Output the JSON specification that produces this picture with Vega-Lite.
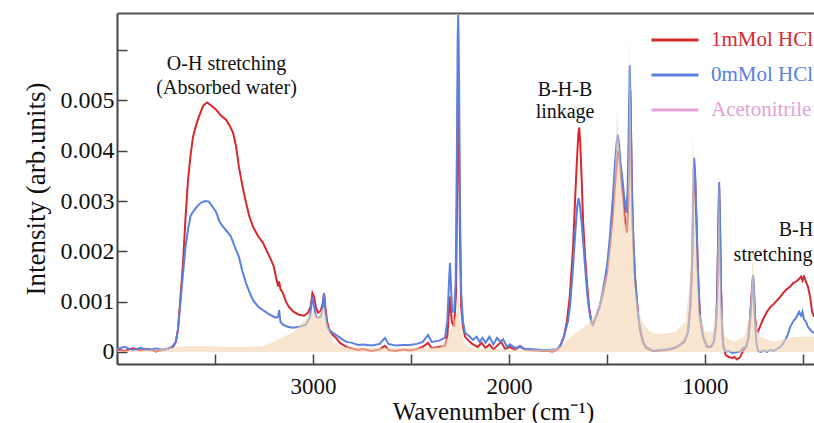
{
  "$schema": "https://vega.github.io/schema/vega-lite/v6.json",
  "width": 697,
  "height": 351,
  "autosize": {"type": "none"},
  "padding": {"left": 117, "top": 13, "right": 0, "bottom": 59},
  "background": "white",
  "config": {
    "font": "Liberation Serif, Times New Roman, serif",
    "view": {"stroke": null},
    "text": {"font": "Liberation Serif, Times New Roman, serif"},
    "legend": {"labelFont": "Liberation Serif, Times New Roman, serif"},
    "axis": {
      "labelFont": "Liberation Serif, Times New Roman, serif",
      "titleFont": "Liberation Serif, Times New Roman, serif",
      "labelColor": "#111",
      "titleColor": "#111",
      "titleFontWeight": "normal",
      "grid": false,
      "domainColor": "#444",
      "domainWidth": 2,
      "tickColor": "#444",
      "tickWidth": 1.5
    }
  },
  "datasets": {
    "spectra": [
      {"s":"1mMol HCl","w":4000,"v":0.00005},{"s":"1mMol HCl","w":3960,"v":0.00002},{"s":"1mMol HCl","w":3920,"v":0.00007},{"s":"1mMol HCl","w":3880,"v":0.00003},{"s":"1mMol HCl","w":3840,"v":0.00006},{"s":"1mMol HCl","w":3800,"v":0.00001},{"s":"1mMol HCl","w":3760,"v":0.00005},{"s":"1mMol HCl","w":3730,"v":0.00007},{"s":"1mMol HCl","w":3714,"v":0.0001},{"s":"1mMol HCl","w":3700,"v":0.0002},{"s":"1mMol HCl","w":3689,"v":0.00044},{"s":"1mMol HCl","w":3676,"v":0.0011},{"s":"1mMol HCl","w":3663,"v":0.00177},{"s":"1mMol HCl","w":3650,"v":0.0027},{"s":"1mMol HCl","w":3638,"v":0.0034},{"s":"1mMol HCl","w":3625,"v":0.0039},{"s":"1mMol HCl","w":3612,"v":0.00428},{"s":"1mMol HCl","w":3597,"v":0.0045},{"s":"1mMol HCl","w":3582,"v":0.00468},{"s":"1mMol HCl","w":3560,"v":0.0049},{"s":"1mMol HCl","w":3540,"v":0.00496},{"s":"1mMol HCl","w":3520,"v":0.0049},{"s":"1mMol HCl","w":3495,"v":0.00482},{"s":"1mMol HCl","w":3470,"v":0.0047},{"s":"1mMol HCl","w":3444,"v":0.00462},{"s":"1mMol HCl","w":3425,"v":0.0045},{"s":"1mMol HCl","w":3408,"v":0.00436},{"s":"1mMol HCl","w":3393,"v":0.0041},{"s":"1mMol HCl","w":3378,"v":0.00368},{"s":"1mMol HCl","w":3360,"v":0.0033},{"s":"1mMol HCl","w":3342,"v":0.00297},{"s":"1mMol HCl","w":3325,"v":0.0027},{"s":"1mMol HCl","w":3306,"v":0.00249},{"s":"1mMol HCl","w":3280,"v":0.0023},{"s":"1mMol HCl","w":3255,"v":0.00217},{"s":"1mMol HCl","w":3235,"v":0.002},{"s":"1mMol HCl","w":3214,"v":0.00183},{"s":"1mMol HCl","w":3200,"v":0.0017},{"s":"1mMol HCl","w":3189,"v":0.00149},{"s":"1mMol HCl","w":3178,"v":0.0013},{"s":"1mMol HCl","w":3173,"v":0.0014},{"s":"1mMol HCl","w":3166,"v":0.00125},{"s":"1mMol HCl","w":3153,"v":0.00117},{"s":"1mMol HCl","w":3138,"v":0.001},{"s":"1mMol HCl","w":3122,"v":0.00089},{"s":"1mMol HCl","w":3100,"v":0.0008},{"s":"1mMol HCl","w":3071,"v":0.00074},{"s":"1mMol HCl","w":3045,"v":0.00072},{"s":"1mMol HCl","w":3026,"v":0.00078},{"s":"1mMol HCl","w":3012,"v":0.0009},{"s":"1mMol HCl","w":3003,"v":0.00117},{"s":"1mMol HCl","w":2995,"v":0.0011},{"s":"1mMol HCl","w":2985,"v":0.00088},{"s":"1mMol HCl","w":2974,"v":0.00078},{"s":"1mMol HCl","w":2960,"v":0.00082},{"s":"1mMol HCl","w":2950,"v":0.00098},{"s":"1mMol HCl","w":2944,"v":0.00117},{"s":"1mMol HCl","w":2937,"v":0.0009},{"s":"1mMol HCl","w":2928,"v":0.0006},{"s":"1mMol HCl","w":2918,"v":0.00044},{"s":"1mMol HCl","w":2900,"v":0.00034},{"s":"1mMol HCl","w":2883,"v":0.00028},{"s":"1mMol HCl","w":2862,"v":0.00018},{"s":"1mMol HCl","w":2830,"v":0.0001},{"s":"1mMol HCl","w":2800,"v":0.00007},{"s":"1mMol HCl","w":2770,"v":0.00004},{"s":"1mMol HCl","w":2745,"v":0.00006},{"s":"1mMol HCl","w":2700,"v":0.00002},{"s":"1mMol HCl","w":2660,"v":0.00005},{"s":"1mMol HCl","w":2633,"v":0.00012},{"s":"1mMol HCl","w":2615,"v":0.00004},{"s":"1mMol HCl","w":2580,"v":0.00002},{"s":"1mMol HCl","w":2540,"v":0.00005},{"s":"1mMol HCl","w":2505,"v":0.00003},{"s":"1mMol HCl","w":2470,"v":0.00006},{"s":"1mMol HCl","w":2440,"v":0.0001},{"s":"1mMol HCl","w":2413,"v":0.00018},{"s":"1mMol HCl","w":2395,"v":0.00008},{"s":"1mMol HCl","w":2360,"v":0.0001},{"s":"1mMol HCl","w":2327,"v":0.00012},{"s":"1mMol HCl","w":2315,"v":0.0003},{"s":"1mMol HCl","w":2301,"v":0.0011},{"s":"1mMol HCl","w":2292,"v":0.0006},{"s":"1mMol HCl","w":2280,"v":0.0005},{"s":"1mMol HCl","w":2270,"v":0.0012},{"s":"1mMol HCl","w":2264,"v":0.0035},{"s":"1mMol HCl","w":2260,"v":0.0056},{"s":"1mMol HCl","w":2256,"v":0.0045},{"s":"1mMol HCl","w":2250,"v":0.0022},{"s":"1mMol HCl","w":2244,"v":0.0009},{"s":"1mMol HCl","w":2235,"v":0.0005},{"s":"1mMol HCl","w":2224,"v":0.0003},{"s":"1mMol HCl","w":2200,"v":0.0002},{"s":"1mMol HCl","w":2184,"v":0.00015},{"s":"1mMol HCl","w":2160,"v":0.0001},{"s":"1mMol HCl","w":2140,"v":0.00018},{"s":"1mMol HCl","w":2120,"v":0.00008},{"s":"1mMol HCl","w":2100,"v":0.00015},{"s":"1mMol HCl","w":2080,"v":0.00005},{"s":"1mMol HCl","w":2061,"v":0.00012},{"s":"1mMol HCl","w":2040,"v":0.0002},{"s":"1mMol HCl","w":2020,"v":0.00006},{"s":"1mMol HCl","w":1995,"v":0.0001},{"s":"1mMol HCl","w":1970,"v":0.00004},{"s":"1mMol HCl","w":1944,"v":0.00012},{"s":"1mMol HCl","w":1920,"v":0.00005},{"s":"1mMol HCl","w":1893,"v":0.00004},{"s":"1mMol HCl","w":1860,"v":0.00003},{"s":"1mMol HCl","w":1830,"v":0.00002},{"s":"1mMol HCl","w":1800,"v":0.00002},{"s":"1mMol HCl","w":1776,"v":0.00001},{"s":"1mMol HCl","w":1755,"v":0.00004},{"s":"1mMol HCl","w":1740,"v":0.0001},{"s":"1mMol HCl","w":1720,"v":0.0003},{"s":"1mMol HCl","w":1705,"v":0.0006},{"s":"1mMol HCl","w":1690,"v":0.0011},{"s":"1mMol HCl","w":1673,"v":0.0021},{"s":"1mMol HCl","w":1662,"v":0.0031},{"s":"1mMol HCl","w":1653,"v":0.00385},{"s":"1mMol HCl","w":1646,"v":0.00435},{"s":"1mMol HCl","w":1642,"v":0.00446},{"s":"1mMol HCl","w":1637,"v":0.0042},{"s":"1mMol HCl","w":1630,"v":0.0035},{"s":"1mMol HCl","w":1622,"v":0.0026},{"s":"1mMol HCl","w":1612,"v":0.0019},{"s":"1mMol HCl","w":1602,"v":0.00135},{"s":"1mMol HCl","w":1592,"v":0.0009},{"s":"1mMol HCl","w":1580,"v":0.0006},{"s":"1mMol HCl","w":1571,"v":0.00054},{"s":"1mMol HCl","w":1555,"v":0.0007},{"s":"1mMol HCl","w":1536,"v":0.00092},{"s":"1mMol HCl","w":1518,"v":0.0012},{"s":"1mMol HCl","w":1500,"v":0.00157},{"s":"1mMol HCl","w":1485,"v":0.0021},{"s":"1mMol HCl","w":1469,"v":0.00277},{"s":"1mMol HCl","w":1458,"v":0.0034},{"s":"1mMol HCl","w":1449,"v":0.00376},{"s":"1mMol HCl","w":1444,"v":0.00396},{"s":"1mMol HCl","w":1436,"v":0.0039},{"s":"1mMol HCl","w":1427,"v":0.0034},{"s":"1mMol HCl","w":1418,"v":0.0031},{"s":"1mMol HCl","w":1408,"v":0.0026},{"s":"1mMol HCl","w":1398,"v":0.00237},{"s":"1mMol HCl","w":1391,"v":0.003},{"s":"1mMol HCl","w":1385,"v":0.0048},{"s":"1mMol HCl","w":1381,"v":0.0052},{"s":"1mMol HCl","w":1376,"v":0.004},{"s":"1mMol HCl","w":1369,"v":0.0025},{"s":"1mMol HCl","w":1360,"v":0.0016},{"s":"1mMol HCl","w":1350,"v":0.0011},{"s":"1mMol HCl","w":1340,"v":0.0007},{"s":"1mMol HCl","w":1332,"v":0.00044},{"s":"1mMol HCl","w":1316,"v":0.00018},{"s":"1mMol HCl","w":1300,"v":0.00008},{"s":"1mMol HCl","w":1280,"v":0.00004},{"s":"1mMol HCl","w":1265,"v":0.00002},{"s":"1mMol HCl","w":1230,"v":0.00003},{"s":"1mMol HCl","w":1200,"v":0.00004},{"s":"1mMol HCl","w":1170,"v":0.00006},{"s":"1mMol HCl","w":1143,"v":0.0001},{"s":"1mMol HCl","w":1128,"v":0.00014},{"s":"1mMol HCl","w":1105,"v":0.0002},{"s":"1mMol HCl","w":1087,"v":0.0004},{"s":"1mMol HCl","w":1075,"v":0.0009},{"s":"1mMol HCl","w":1066,"v":0.0017},{"s":"1mMol HCl","w":1060,"v":0.003},{"s":"1mMol HCl","w":1056,"v":0.0038},{"s":"1mMol HCl","w":1050,"v":0.0034},{"s":"1mMol HCl","w":1044,"v":0.0026},{"s":"1mMol HCl","w":1036,"v":0.0015},{"s":"1mMol HCl","w":1026,"v":0.0007},{"s":"1mMol HCl","w":1010,"v":0.0003},{"s":"1mMol HCl","w":990,"v":0.0001},{"s":"1mMol HCl","w":970,"v":0.0001},{"s":"1mMol HCl","w":955,"v":0.0002},{"s":"1mMol HCl","w":945,"v":0.0005},{"s":"1mMol HCl","w":938,"v":0.0011},{"s":"1mMol HCl","w":932,"v":0.0025},{"s":"1mMol HCl","w":928,"v":0.0033},{"s":"1mMol HCl","w":924,"v":0.0026},{"s":"1mMol HCl","w":918,"v":0.0012},{"s":"1mMol HCl","w":912,"v":0.0004},{"s":"1mMol HCl","w":906,"v":0.0001},{"s":"1mMol HCl","w":895,"v":-0.00006},{"s":"1mMol HCl","w":880,"v":-0.0001},{"s":"1mMol HCl","w":860,"v":-0.00012},{"s":"1mMol HCl","w":850,"v":-0.0001},{"s":"1mMol HCl","w":837,"v":-0.00015},{"s":"1mMol HCl","w":820,"v":-0.0001},{"s":"1mMol HCl","w":806,"v":0.00002},{"s":"1mMol HCl","w":790,"v":0.0001},{"s":"1mMol HCl","w":778,"v":0.0003},{"s":"1mMol HCl","w":768,"v":0.0008},{"s":"1mMol HCl","w":760,"v":0.0013},{"s":"1mMol HCl","w":755,"v":0.0015},{"s":"1mMol HCl","w":750,"v":0.0012},{"s":"1mMol HCl","w":745,"v":0.0007},{"s":"1mMol HCl","w":738,"v":0.00045},{"s":"1mMol HCl","w":730,"v":0.0004},{"s":"1mMol HCl","w":715,"v":0.00055},{"s":"1mMol HCl","w":700,"v":0.00068},{"s":"1mMol HCl","w":684,"v":0.0008},{"s":"1mMol HCl","w":665,"v":0.0009},{"s":"1mMol HCl","w":650,"v":0.00095},{"s":"1mMol HCl","w":632,"v":0.00103},{"s":"1mMol HCl","w":615,"v":0.0011},{"s":"1mMol HCl","w":600,"v":0.00118},{"s":"1mMol HCl","w":582,"v":0.00125},{"s":"1mMol HCl","w":565,"v":0.0013},{"s":"1mMol HCl","w":551,"v":0.00137},{"s":"1mMol HCl","w":535,"v":0.0014},{"s":"1mMol HCl","w":520,"v":0.00145},{"s":"1mMol HCl","w":510,"v":0.0015},{"s":"1mMol HCl","w":503,"v":0.00142},{"s":"1mMol HCl","w":495,"v":0.0015},{"s":"1mMol HCl","w":485,"v":0.0014},{"s":"1mMol HCl","w":475,"v":0.0013},{"s":"1mMol HCl","w":464,"v":0.0011},{"s":"1mMol HCl","w":454,"v":0.0008},{"s":"1mMol HCl","w":444,"v":0.0007},

      {"s":"0mMol HCl","w":4000,"v":0.00006},{"s":"0mMol HCl","w":3960,"v":0.0001},{"s":"0mMol HCl","w":3920,"v":0.00003},{"s":"0mMol HCl","w":3880,"v":0.00008},{"s":"0mMol HCl","w":3840,"v":0.00004},{"s":"0mMol HCl","w":3800,"v":0.00007},{"s":"0mMol HCl","w":3760,"v":0.00004},{"s":"0mMol HCl","w":3730,"v":0.00008},{"s":"0mMol HCl","w":3714,"v":0.00012},{"s":"0mMol HCl","w":3700,"v":0.0002},{"s":"0mMol HCl","w":3689,"v":0.00044},{"s":"0mMol HCl","w":3676,"v":0.001},{"s":"0mMol HCl","w":3663,"v":0.00157},{"s":"0mMol HCl","w":3650,"v":0.0021},{"s":"0mMol HCl","w":3638,"v":0.00243},{"s":"0mMol HCl","w":3625,"v":0.0027},{"s":"0mMol HCl","w":3612,"v":0.00279},{"s":"0mMol HCl","w":3590,"v":0.0029},{"s":"0mMol HCl","w":3571,"v":0.00297},{"s":"0mMol HCl","w":3550,"v":0.003},{"s":"0mMol HCl","w":3531,"v":0.00299},{"s":"0mMol HCl","w":3515,"v":0.0029},{"s":"0mMol HCl","w":3495,"v":0.00279},{"s":"0mMol HCl","w":3478,"v":0.0026},{"s":"0mMol HCl","w":3459,"v":0.00249},{"s":"0mMol HCl","w":3440,"v":0.0024},{"s":"0mMol HCl","w":3418,"v":0.00229},{"s":"0mMol HCl","w":3400,"v":0.0021},{"s":"0mMol HCl","w":3378,"v":0.00189},{"s":"0mMol HCl","w":3360,"v":0.0016},{"s":"0mMol HCl","w":3342,"v":0.00137},{"s":"0mMol HCl","w":3325,"v":0.0012},{"s":"0mMol HCl","w":3306,"v":0.00103},{"s":"0mMol HCl","w":3280,"v":0.0009},{"s":"0mMol HCl","w":3255,"v":0.00083},{"s":"0mMol HCl","w":3225,"v":0.00075},{"s":"0mMol HCl","w":3200,"v":0.0007},{"s":"0mMol HCl","w":3189,"v":0.00068},{"s":"0mMol HCl","w":3178,"v":0.0007},{"s":"0mMol HCl","w":3173,"v":0.00083},{"s":"0mMol HCl","w":3166,"v":0.0006},{"s":"0mMol HCl","w":3153,"v":0.00054},{"s":"0mMol HCl","w":3130,"v":0.0005},{"s":"0mMol HCl","w":3102,"v":0.00048},{"s":"0mMol HCl","w":3070,"v":0.0005},{"s":"0mMol HCl","w":3036,"v":0.00054},{"s":"0mMol HCl","w":3015,"v":0.0007},{"s":"0mMol HCl","w":3003,"v":0.0011},{"s":"0mMol HCl","w":2994,"v":0.0009},{"s":"0mMol HCl","w":2985,"v":0.0007},{"s":"0mMol HCl","w":2974,"v":0.00068},{"s":"0mMol HCl","w":2960,"v":0.0007},{"s":"0mMol HCl","w":2950,"v":0.0009},{"s":"0mMol HCl","w":2944,"v":0.00117},{"s":"0mMol HCl","w":2937,"v":0.0008},{"s":"0mMol HCl","w":2928,"v":0.0005},{"s":"0mMol HCl","w":2918,"v":0.00044},{"s":"0mMol HCl","w":2900,"v":0.00038},{"s":"0mMol HCl","w":2883,"v":0.00034},{"s":"0mMol HCl","w":2862,"v":0.00028},{"s":"0mMol HCl","w":2830,"v":0.0002},{"s":"0mMol HCl","w":2800,"v":0.00018},{"s":"0mMol HCl","w":2770,"v":0.00014},{"s":"0mMol HCl","w":2745,"v":0.00015},{"s":"0mMol HCl","w":2700,"v":0.00013},{"s":"0mMol HCl","w":2660,"v":0.00016},{"s":"0mMol HCl","w":2633,"v":0.00028},{"s":"0mMol HCl","w":2615,"v":0.00016},{"s":"0mMol HCl","w":2580,"v":0.00013},{"s":"0mMol HCl","w":2540,"v":0.00014},{"s":"0mMol HCl","w":2505,"v":0.00014},{"s":"0mMol HCl","w":2470,"v":0.00016},{"s":"0mMol HCl","w":2440,"v":0.0002},{"s":"0mMol HCl","w":2413,"v":0.00034},{"s":"0mMol HCl","w":2395,"v":0.0002},{"s":"0mMol HCl","w":2360,"v":0.00022},{"s":"0mMol HCl","w":2327,"v":0.00028},{"s":"0mMol HCl","w":2315,"v":0.0006},{"s":"0mMol HCl","w":2306,"v":0.0014},{"s":"0mMol HCl","w":2301,"v":0.00177},{"s":"0mMol HCl","w":2296,"v":0.0013},{"s":"0mMol HCl","w":2290,"v":0.0008},{"s":"0mMol HCl","w":2280,"v":0.0008},{"s":"0mMol HCl","w":2272,"v":0.0014},{"s":"0mMol HCl","w":2266,"v":0.004},{"s":"0mMol HCl","w":2262,"v":0.0062},{"s":"0mMol HCl","w":2259,"v":0.0067},{"s":"0mMol HCl","w":2255,"v":0.0055},{"s":"0mMol HCl","w":2250,"v":0.0028},{"s":"0mMol HCl","w":2244,"v":0.0012},{"s":"0mMol HCl","w":2235,"v":0.0006},{"s":"0mMol HCl","w":2224,"v":0.00038},{"s":"0mMol HCl","w":2200,"v":0.0003},{"s":"0mMol HCl","w":2184,"v":0.00024},{"s":"0mMol HCl","w":2165,"v":0.0003},{"s":"0mMol HCl","w":2150,"v":0.0002},{"s":"0mMol HCl","w":2135,"v":0.00028},{"s":"0mMol HCl","w":2120,"v":0.00018},{"s":"0mMol HCl","w":2100,"v":0.0003},{"s":"0mMol HCl","w":2080,"v":0.00015},{"s":"0mMol HCl","w":2061,"v":0.00028},{"s":"0mMol HCl","w":2045,"v":0.0002},{"s":"0mMol HCl","w":2030,"v":0.00025},{"s":"0mMol HCl","w":2010,"v":0.0001},{"s":"0mMol HCl","w":1995,"v":0.00015},{"s":"0mMol HCl","w":1970,"v":0.00008},{"s":"0mMol HCl","w":1944,"v":0.0001},{"s":"0mMol HCl","w":1920,"v":0.00006},{"s":"0mMol HCl","w":1893,"v":0.00006},{"s":"0mMol HCl","w":1860,"v":0.00005},{"s":"0mMol HCl","w":1830,"v":0.00004},{"s":"0mMol HCl","w":1800,"v":0.00004},{"s":"0mMol HCl","w":1776,"v":0.00005},{"s":"0mMol HCl","w":1755,"v":0.00006},{"s":"0mMol HCl","w":1740,"v":0.00012},{"s":"0mMol HCl","w":1720,"v":0.0003},{"s":"0mMol HCl","w":1700,"v":0.0006},{"s":"0mMol HCl","w":1689,"v":0.0009},{"s":"0mMol HCl","w":1675,"v":0.0016},{"s":"0mMol HCl","w":1663,"v":0.0023},{"s":"0mMol HCl","w":1652,"v":0.0029},{"s":"0mMol HCl","w":1645,"v":0.00306},{"s":"0mMol HCl","w":1638,"v":0.0029},{"s":"0mMol HCl","w":1630,"v":0.0026},{"s":"0mMol HCl","w":1622,"v":0.0022},{"s":"0mMol HCl","w":1612,"v":0.0017},{"s":"0mMol HCl","w":1602,"v":0.0012},{"s":"0mMol HCl","w":1590,"v":0.0008},{"s":"0mMol HCl","w":1580,"v":0.0006},{"s":"0mMol HCl","w":1575,"v":0.00054},{"s":"0mMol HCl","w":1555,"v":0.0007},{"s":"0mMol HCl","w":1536,"v":0.00092},{"s":"0mMol HCl","w":1518,"v":0.0013},{"s":"0mMol HCl","w":1500,"v":0.0017},{"s":"0mMol HCl","w":1485,"v":0.0023},{"s":"0mMol HCl","w":1470,"v":0.0031},{"s":"0mMol HCl","w":1459,"v":0.00376},{"s":"0mMol HCl","w":1450,"v":0.0042},{"s":"0mMol HCl","w":1445,"v":0.00432},{"s":"0mMol HCl","w":1438,"v":0.0041},{"s":"0mMol HCl","w":1430,"v":0.0037},{"s":"0mMol HCl","w":1423,"v":0.0035},{"s":"0mMol HCl","w":1413,"v":0.0031},{"s":"0mMol HCl","w":1403,"v":0.00277},{"s":"0mMol HCl","w":1395,"v":0.0032},{"s":"0mMol HCl","w":1389,"v":0.0045},{"s":"0mMol HCl","w":1384,"v":0.0057},{"s":"0mMol HCl","w":1379,"v":0.0048},{"s":"0mMol HCl","w":1373,"v":0.0032},{"s":"0mMol HCl","w":1365,"v":0.0022},{"s":"0mMol HCl","w":1357,"v":0.0015},{"s":"0mMol HCl","w":1347,"v":0.001},{"s":"0mMol HCl","w":1340,"v":0.0007},{"s":"0mMol HCl","w":1332,"v":0.0005},{"s":"0mMol HCl","w":1316,"v":0.0002},{"s":"0mMol HCl","w":1300,"v":0.0001},{"s":"0mMol HCl","w":1280,"v":0.00005},{"s":"0mMol HCl","w":1265,"v":0.00002},{"s":"0mMol HCl","w":1230,"v":0.00004},{"s":"0mMol HCl","w":1200,"v":0.00005},{"s":"0mMol HCl","w":1170,"v":0.00007},{"s":"0mMol HCl","w":1143,"v":0.0001},{"s":"0mMol HCl","w":1128,"v":0.00014},{"s":"0mMol HCl","w":1105,"v":0.00022},{"s":"0mMol HCl","w":1087,"v":0.00038},{"s":"0mMol HCl","w":1075,"v":0.0009},{"s":"0mMol HCl","w":1066,"v":0.0017},{"s":"0mMol HCl","w":1060,"v":0.0031},{"s":"0mMol HCl","w":1056,"v":0.00386},{"s":"0mMol HCl","w":1050,"v":0.0035},{"s":"0mMol HCl","w":1044,"v":0.0027},{"s":"0mMol HCl","w":1036,"v":0.0016},{"s":"0mMol HCl","w":1026,"v":0.0007},{"s":"0mMol HCl","w":1010,"v":0.0003},{"s":"0mMol HCl","w":990,"v":0.00012},{"s":"0mMol HCl","w":970,"v":0.0001},{"s":"0mMol HCl","w":955,"v":0.0002},{"s":"0mMol HCl","w":945,"v":0.0005},{"s":"0mMol HCl","w":938,"v":0.001},{"s":"0mMol HCl","w":932,"v":0.0025},{"s":"0mMol HCl","w":928,"v":0.00338},{"s":"0mMol HCl","w":924,"v":0.0027},{"s":"0mMol HCl","w":918,"v":0.0012},{"s":"0mMol HCl","w":912,"v":0.0004},{"s":"0mMol HCl","w":906,"v":0.0001},{"s":"0mMol HCl","w":895,"v":0.0},{"s":"0mMol HCl","w":880,"v":0.00002},{"s":"0mMol HCl","w":860,"v":-0.00002},{"s":"0mMol HCl","w":837,"v":0.0},{"s":"0mMol HCl","w":820,"v":0.00001},{"s":"0mMol HCl","w":806,"v":0.00008},{"s":"0mMol HCl","w":790,"v":0.0001},{"s":"0mMol HCl","w":778,"v":0.0003},{"s":"0mMol HCl","w":768,"v":0.0007},{"s":"0mMol HCl","w":760,"v":0.0012},{"s":"0mMol HCl","w":755,"v":0.00153},{"s":"0mMol HCl","w":750,"v":0.0012},{"s":"0mMol HCl","w":745,"v":0.0006},{"s":"0mMol HCl","w":738,"v":0.0002},{"s":"0mMol HCl","w":730,"v":0.00002},{"s":"0mMol HCl","w":715,"v":0.0},{"s":"0mMol HCl","w":700,"v":0.00003},{"s":"0mMol HCl","w":684,"v":0.0},{"s":"0mMol HCl","w":665,"v":0.00004},{"s":"0mMol HCl","w":650,"v":0.00002},{"s":"0mMol HCl","w":632,"v":0.00006},{"s":"0mMol HCl","w":615,"v":0.0001},{"s":"0mMol HCl","w":600,"v":0.00018},{"s":"0mMol HCl","w":582,"v":0.0003},{"s":"0mMol HCl","w":565,"v":0.0005},{"s":"0mMol HCl","w":551,"v":0.0006},{"s":"0mMol HCl","w":535,"v":0.00068},{"s":"0mMol HCl","w":520,"v":0.0008},{"s":"0mMol HCl","w":510,"v":0.00072},{"s":"0mMol HCl","w":503,"v":0.0008},{"s":"0mMol HCl","w":495,"v":0.00065},{"s":"0mMol HCl","w":485,"v":0.0006},{"s":"0mMol HCl","w":475,"v":0.0005},{"s":"0mMol HCl","w":464,"v":0.00045},{"s":"0mMol HCl","w":454,"v":0.0004},{"s":"0mMol HCl","w":444,"v":0.00038},

      {"s":"Acetonitrile","w":4000,"v":0.00003},{"s":"Acetonitrile","w":3800,"v":0.00005},{"s":"Acetonitrile","w":3700,"v":0.0001},{"s":"Acetonitrile","w":3650,"v":0.00012},{"s":"Acetonitrile","w":3550,"v":0.00012},{"s":"Acetonitrile","w":3450,"v":0.0001},{"s":"Acetonitrile","w":3350,"v":0.0001},{"s":"Acetonitrile","w":3250,"v":0.00012},{"s":"Acetonitrile","w":3200,"v":0.0002},{"s":"Acetonitrile","w":3150,"v":0.0003},{"s":"Acetonitrile","w":3100,"v":0.0004},{"s":"Acetonitrile","w":3050,"v":0.0006},{"s":"Acetonitrile","w":3020,"v":0.0007},{"s":"Acetonitrile","w":3003,"v":0.00085},{"s":"Acetonitrile","w":2980,"v":0.0007},{"s":"Acetonitrile","w":2944,"v":0.0009},{"s":"Acetonitrile","w":2930,"v":0.0006},{"s":"Acetonitrile","w":2900,"v":0.0002},{"s":"Acetonitrile","w":2850,"v":0.0001},{"s":"Acetonitrile","w":2700,"v":0.00008},{"s":"Acetonitrile","w":2500,"v":0.00008},{"s":"Acetonitrile","w":2350,"v":0.0001},{"s":"Acetonitrile","w":2310,"v":0.0003},{"s":"Acetonitrile","w":2290,"v":0.0005},{"s":"Acetonitrile","w":2266,"v":0.0008},{"s":"Acetonitrile","w":2260,"v":0.0012},{"s":"Acetonitrile","w":2250,"v":0.0006},{"s":"Acetonitrile","w":2230,"v":0.0002},{"s":"Acetonitrile","w":2200,"v":0.00008},{"s":"Acetonitrile","w":2000,"v":0.00005},{"s":"Acetonitrile","w":1800,"v":0.00005},{"s":"Acetonitrile","w":1740,"v":0.0001},{"s":"Acetonitrile","w":1700,"v":0.00025},{"s":"Acetonitrile","w":1650,"v":0.0004},{"s":"Acetonitrile","w":1600,"v":0.00055},{"s":"Acetonitrile","w":1550,"v":0.0008},{"s":"Acetonitrile","w":1500,"v":0.0016},{"s":"Acetonitrile","w":1470,"v":0.0028},{"s":"Acetonitrile","w":1455,"v":0.004},{"s":"Acetonitrile","w":1449,"v":0.0049},{"s":"Acetonitrile","w":1440,"v":0.0042},{"s":"Acetonitrile","w":1425,"v":0.0034},{"s":"Acetonitrile","w":1405,"v":0.0025},{"s":"Acetonitrile","w":1395,"v":0.0028},{"s":"Acetonitrile","w":1383,"v":0.0063},{"s":"Acetonitrile","w":1375,"v":0.0032},{"s":"Acetonitrile","w":1360,"v":0.0014},{"s":"Acetonitrile","w":1340,"v":0.0008},{"s":"Acetonitrile","w":1320,"v":0.0006},{"s":"Acetonitrile","w":1280,"v":0.0004},{"s":"Acetonitrile","w":1230,"v":0.00035},{"s":"Acetonitrile","w":1150,"v":0.0004},{"s":"Acetonitrile","w":1100,"v":0.0006},{"s":"Acetonitrile","w":1075,"v":0.0015},{"s":"Acetonitrile","w":1062,"v":0.0044},{"s":"Acetonitrile","w":1050,"v":0.0026},{"s":"Acetonitrile","w":1030,"v":0.0008},{"s":"Acetonitrile","w":1000,"v":0.0004},{"s":"Acetonitrile","w":960,"v":0.0004},{"s":"Acetonitrile","w":940,"v":0.001},{"s":"Acetonitrile","w":929,"v":0.0035},{"s":"Acetonitrile","w":918,"v":0.001},{"s":"Acetonitrile","w":900,"v":0.0003},{"s":"Acetonitrile","w":850,"v":0.0002},{"s":"Acetonitrile","w":800,"v":0.0003},{"s":"Acetonitrile","w":770,"v":0.0008},{"s":"Acetonitrile","w":755,"v":0.0021},{"s":"Acetonitrile","w":742,"v":0.0006},{"s":"Acetonitrile","w":720,"v":0.0003},{"s":"Acetonitrile","w":650,"v":0.0002},{"s":"Acetonitrile","w":550,"v":0.0003},{"s":"Acetonitrile","w":444,"v":0.0003}
    ],
    "notes": [
      {"w": 3441, "v": 0.00572, "t": "O-H stretching"},
      {"w": 3441, "v": 0.00524, "t": "(Absorbed water)"},
      {"w": 1714, "v": 0.0052, "t": "B-H-B"},
      {"w": 1714, "v": 0.00478, "t": "linkage"},
      {"w": 536, "v": 0.00243, "t": "B-H"},
      {"w": 653, "v": 0.00193, "t": "stretching"}
    ]
  },
  "layer": [
    {
      "data": {"name": "spectra"},
      "transform": [{"filter": "datum.s === '1mMol HCl'"}],
      "mark": {"type": "line", "strokeWidth": 2, "clip": true},
      "encoding": {
        "x": {
          "field": "w", "type": "quantitative",
          "scale": {"domain": [4000, 444], "nice": false, "zero": false},
          "axis": {
            "orient": "bottom",
            "values": [4000, 3500, 3000, 2500, 2000, 1500, 1000, 500],
            "labelExpr": "datum.value % 1000 === 0 && datum.value < 4000 ? '' + datum.value : ''",
            "labelFontSize": 23,
            "tickSize": -10,
            "labelPadding": 21,
            "title": "Wavenumber (cm⁻¹)",
            "titleFontSize": 25,
            "titleX": 376,
            "titlePadding": 1
          }
        },
        "y": {
          "field": "v", "type": "quantitative",
          "scale": {"domain": [-0.00024, 0.00674], "nice": false, "zero": false},
          "axis": {
            "values": [0, 0.001, 0.002, 0.003, 0.004, 0.005, 0.006],
            "labelExpr": "datum.value > 0.0055 ? '' : (datum.value == 0 ? '0' : format(datum.value, '.3f'))",
            "labelFontSize": 24,
            "tickSize": -10,
            "labelPadding": 13,
            "title": "Intensity (arb.units)",
            "titleFontSize": 27,
            "titlePadding": 10
          }
        },
        "color": {
          "field": "s", "type": "nominal",
          "scale": {"domain": ["1mMol HCl", "0mMol HCl", "Acetonitrile"], "range": ["#d8282e", "#5b80e0", "#e3a3da"]},
          "legend": {
            "orient": "none", "legendX": 533, "legendY": 2, "title": null,
            "symbolType": "stroke", "symbolSize": 2209, "symbolStrokeWidth": 3,
            "labelFont": "Liberation Serif, Times New Roman, serif", "labelFontSize": 21, "labelOffset": 11,
            "rowPadding": -16,
            "encode": {"labels": {"update": {"fill": {"scale": "color", "field": "value"}}}}
          }
        }
      }
    },
    {
      "data": {"name": "spectra"},
      "transform": [{"filter": "datum.s === '0mMol HCl'"}],
      "mark": {"type": "line", "strokeWidth": 2, "clip": true},
      "encoding": {
        "x": {
          "field": "w", "type": "quantitative",
          "axis": {"orient": "top", "labels": false, "ticks": false, "title": null, "domainColor": "#555"}
        },
        "y": {"field": "v", "type": "quantitative"},
        "color": {"field": "s", "type": "nominal"}
      }
    },
    {
      "data": {"name": "spectra"},
      "transform": [{"filter": "datum.s === 'Acetonitrile'"}],
      "mark": {"type": "area", "color": "#f4d5b2", "opacity": 0.6, "clip": true},
      "encoding": {
        "x": {"field": "w", "type": "quantitative", "axis": null},
        "y": {"field": "v", "type": "quantitative"}
      }
    },
    {
      "data": {"name": "notes"},
      "mark": {"type": "text", "font": "Liberation Serif, Times New Roman, serif", "fontSize": 20, "color": "#111", "baseline": "middle", "align": "center"},
      "encoding": {
        "x": {"field": "w", "type": "quantitative", "axis": null},
        "y": {"field": "v", "type": "quantitative"},
        "text": {"field": "t"}
      }
    }
  ],
  "resolve": {"axis": {"x": "independent"}}
}
